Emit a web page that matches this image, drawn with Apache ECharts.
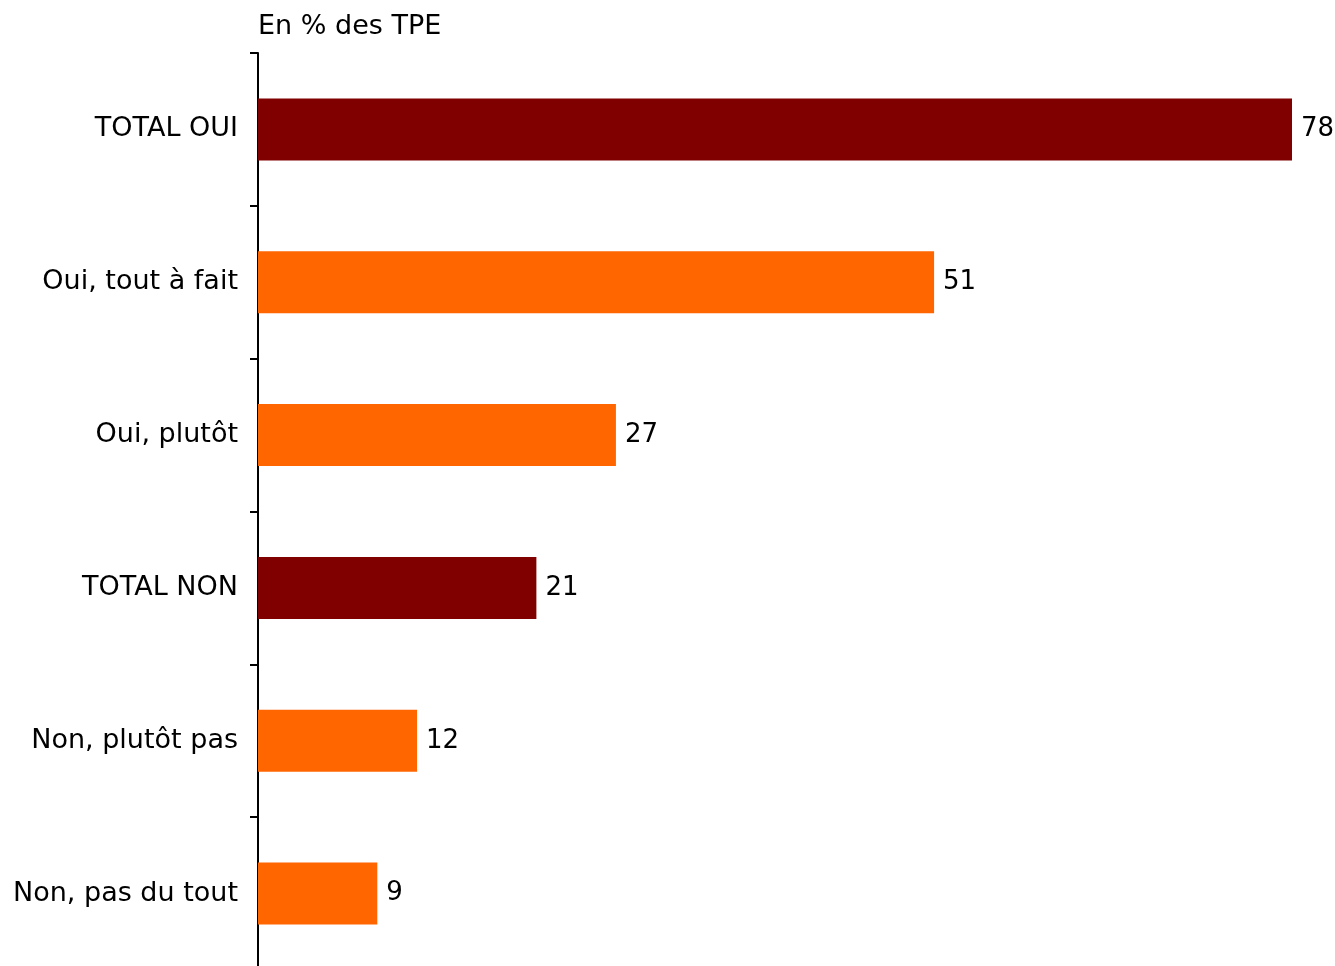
<!DOCTYPE html>
<html><head><meta charset="utf-8">
<script src="https://cdn.jsdelivr.net/npm/echarts@6/dist/echarts.min.js"></script>
<style>html,body{margin:0;padding:0;background:#fff;overflow:hidden;height:966px}#c{width:1335px;height:970px}</style>
</head><body><div id="c"></div>
<script>
const categories = ["TOTAL OUI", "Oui, tout à fait", "Oui, plutôt", "TOTAL NON", "Non, plutôt pas", "Non, pas du tout"];
const values = [78, 51, 27, 21, 12, 9];
const barColors = ["#800000", "#FF6600", "#FF6600", "#800000", "#FF6600", "#FF6600"];
const unitLabel = "En % des TPE";

const FONT = "DejaVu Sans";
const chart = echarts.init(document.getElementById('c'), null, {renderer: 'canvas'});
chart.setOption({
  animation: false,
  textStyle: {fontFamily: FONT},
  title: {text: unitLabel, left: 253, top: 8, textStyle: {fontFamily: FONT, fontSize: 27, fontWeight: 'normal', color: '#000'}},
  grid: {left: 258, right: 43, top: 53, bottom: 0, containLabel: false, outerBoundsMode: 'none'},
  xAxis: {type: 'value', min: 0, max: 78, show: false},
  yAxis: {
    type: 'category', data: categories, inverse: true,
    axisLine: {show: true, lineStyle: {color: '#000', width: 2}},
    axisTick: {show: true, length: 8, lineStyle: {color: '#000', width: 2}},
    axisLabel: {color: '#000', fontSize: 27, fontFamily: FONT, margin: 20, padding: [6, 0, 0, 0]}
  },
  series: [{
    type: 'bar',
    data: values.map((v, i) => ({value: v, itemStyle: {color: barColors[i]}})),
    barWidth: 62,
    label: {show: true, position: 'right', distance: 9, color: '#000', fontSize: 26, fontFamily: FONT, padding: [6, 0, 0, 0]}
  }]
});
</script></body></html>
